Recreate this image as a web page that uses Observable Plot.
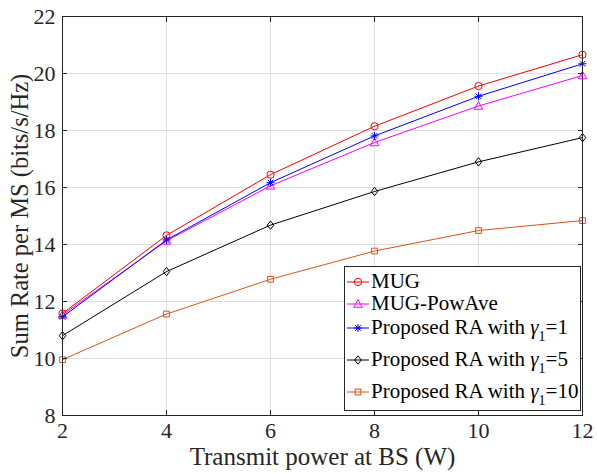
<!DOCTYPE html>
<html>
<head>
<meta charset="utf-8">
<script src="https://cdn.jsdelivr.net/npm/d3@7"></script>
<script src="https://cdn.jsdelivr.net/npm/@observablehq/plot@0.6"></script>
<style>
  html, body { margin: 0; padding: 0; background: #fff; }
  #wrap { position: relative; width: 597px; height: 474px; font-family: "Liberation Serif", "Times New Roman", serif; }
  #legend { position: absolute; left: 344px; top: 266px; width: 237px; height: 145px; background: #fff; border: 1px solid #262626; box-sizing: border-box; color: #000; font-size: 21px; }
  .row { position: absolute; left: 0; display: flex; align-items: center; white-space: nowrap; }
  .row svg { display: block; margin-left: 1px; margin-right: 1px; }
  .row sub { font-size: 14px; vertical-align: -7px; line-height: 0; }
</style>
</head>
<body>
<div id="wrap"></div>
<script>
// ---- data ----
const power = [2, 4, 6, 8, 10, 12];
const mug    = [11.58, 14.32, 16.45, 18.15, 19.56, 20.66];
const powAve = [11.53, 14.13, 16.06, 17.58, 18.86, 19.93];
const ra1    = [11.46, 14.16, 16.17, 17.81, 19.20, 20.34];
const ra5    = [10.80, 13.05, 14.68, 15.86, 16.90, 17.75];
const ra10   = [9.96, 11.56, 12.78, 13.77, 14.49, 14.84];
const xTicks = [2, 4, 6, 8, 10, 12];
const yTicks = [8, 10, 12, 14, 16, 18, 20, 22];
const xLabel = "Transmit power at BS (W)";
const yLabel = "Sum Rate per MS (bits/s/Hz)";
const seriesNames = ["MUG", "MUG-PowAve", "Proposed RA with γ1=1", "Proposed RA with γ1=5", "Proposed RA with γ1=10"];
const seriesValues = [mug, powAve, ra1, ra5, ra10];
const colors = ["#ff0000", "#ff00ff", "#0000ff", "#000000", "#d95319"];

// custom MATLAB-like symbols
const asterisk8 = { draw(ctx, size) { const r = Math.sqrt(size / Math.PI); const d = r * Math.SQRT1_2;
  ctx.moveTo(0, -r); ctx.lineTo(0, r); ctx.moveTo(-r, 0); ctx.lineTo(r, 0);
  ctx.moveTo(-d, -d); ctx.lineTo(d, d); ctx.moveTo(-d, d); ctx.lineTo(d, -d); } };
const diamondM = { draw(ctx, size) { const r = Math.sqrt(size / Math.PI); const w = r * 0.78;
  ctx.moveTo(0, -r); ctx.lineTo(w, 0); ctx.lineTo(0, r); ctx.lineTo(-w, 0); ctx.closePath(); } };
const triangleM = { draw(ctx, size) { const r = Math.sqrt(size / Math.PI); 
  ctx.moveTo(0, -r); ctx.lineTo(r * 0.95, r * 0.75); ctx.lineTo(-r * 0.95, r * 0.75); ctx.closePath(); } };
const squareM = { draw(ctx, size) { const r = Math.sqrt(size / Math.PI) * 0.8; ctx.rect(-r, -r, 2 * r, 2 * r); } };
const symbols = ["circle", triangleM, asterisk8, diamondM, squareM];
const radii = [3.6, 4.4, 4, 4.2, 3.6];

const data = [];
seriesNames.forEach((name, i) => power.forEach((p, j) => data.push({ series: name, idx: i, x: p, y: seriesValues[i][j] })));

const axisColor = "#262626";
const marks = [
  Plot.gridX(xTicks, { stroke: axisColor, strokeOpacity: 0.15 }),
  Plot.gridY(yTicks, { stroke: axisColor, strokeOpacity: 0.15 })
];
seriesNames.forEach((name, i) => {
  const d = data.filter(r => r.idx === i);
  marks.push(Plot.line(d, { x: "x", y: "y", stroke: colors[i], strokeWidth: 1 }));
  marks.push(Plot.dot(d, { x: "x", y: "y", stroke: colors[i], fill: "none", symbol: () => symbols[i], r: radii[i], strokeWidth: 1 }));
});
marks.push(
  Plot.frame({ stroke: axisColor, strokeWidth: 1 }),
  Plot.axisX(xTicks, { anchor: "bottom", tickSize: -5, tickPadding: 12, fontSize: 22, color: axisColor, label: null }),
  Plot.axisX(xTicks, { anchor: "top", tickSize: -5, tickFormat: () => "", color: axisColor, label: null }),
  Plot.axisY(yTicks, { anchor: "left", tickSize: -5, tickPadding: 12, fontSize: 22, color: axisColor, label: null }),
  Plot.axisY(yTicks, { anchor: "right", tickSize: -5, tickFormat: () => "", color: axisColor, label: null }),
  Plot.text([xLabel], { text: d => d, frameAnchor: "bottom", textAnchor: "middle", dy: 49, fontSize: 25, fill: axisColor }),
  Plot.text([yLabel], { text: d => d, frameAnchor: "left", textAnchor: "middle", rotate: -90, dx: -42, fontSize: 24.5, fill: axisColor })
);

const chart = Plot.plot({
  width: 597, height: 474,
  marginLeft: 62, marginRight: 15, marginTop: 16, marginBottom: 59,
  style: { fontFamily: "'Liberation Serif', 'Times New Roman', serif", fontSize: "22px", background: "#fff", overflow: "visible" },
  x: { domain: [2, 12] },
  y: { domain: [8, 22] },
  marks
});
const wrap = document.getElementById("wrap");
wrap.appendChild(chart);

// ---- legend (HTML overlay) ----
const legend = document.createElement("div");
legend.id = "legend";
const rowTops = [2, 24, 48, 80, 112];
const symSvg = [
  '<circle cx="12" cy="8" r="3.6" fill="none" stroke="C"/>',
  '<path d="M12,3.6 L16.2,11.3 L7.8,11.3 Z" fill="none" stroke="C"/>',
  '<path d="M12,4 V12 M8,8 H16 M9.2,5.2 L14.8,10.8 M9.2,10.8 L14.8,5.2" fill="none" stroke="C"/>',
  '<path d="M12,3.8 L15.3,8 L12,12.2 L8.7,8 Z" fill="none" stroke="C"/>',
  '<rect x="9.1" y="5.1" width="5.8" height="5.8" fill="none" stroke="C"/>'
];
const labelsHtml = [
  "MUG", "MUG-PowAve",
  "Proposed RA with <i>γ</i><sub>1</sub>=1",
  "Proposed RA with <i>γ</i><sub>1</sub>=5",
  "Proposed RA with <i>γ</i><sub>1</sub>=10"
];
seriesNames.forEach((name, i) => {
  const row = document.createElement("div");
  row.className = "row";
  row.style.top = rowTops[i] + "px";
  row.innerHTML = '<svg width="24" height="16"><line x1="1" y1="8" x2="23" y2="8" stroke="' + colors[i] + '" stroke-width="1"/>' +
    symSvg[i].replace(/C/g, colors[i]) + '</svg><span>' + labelsHtml[i] + '</span>';
  legend.appendChild(row);
});
wrap.appendChild(legend);
</script>
</body>
</html>
